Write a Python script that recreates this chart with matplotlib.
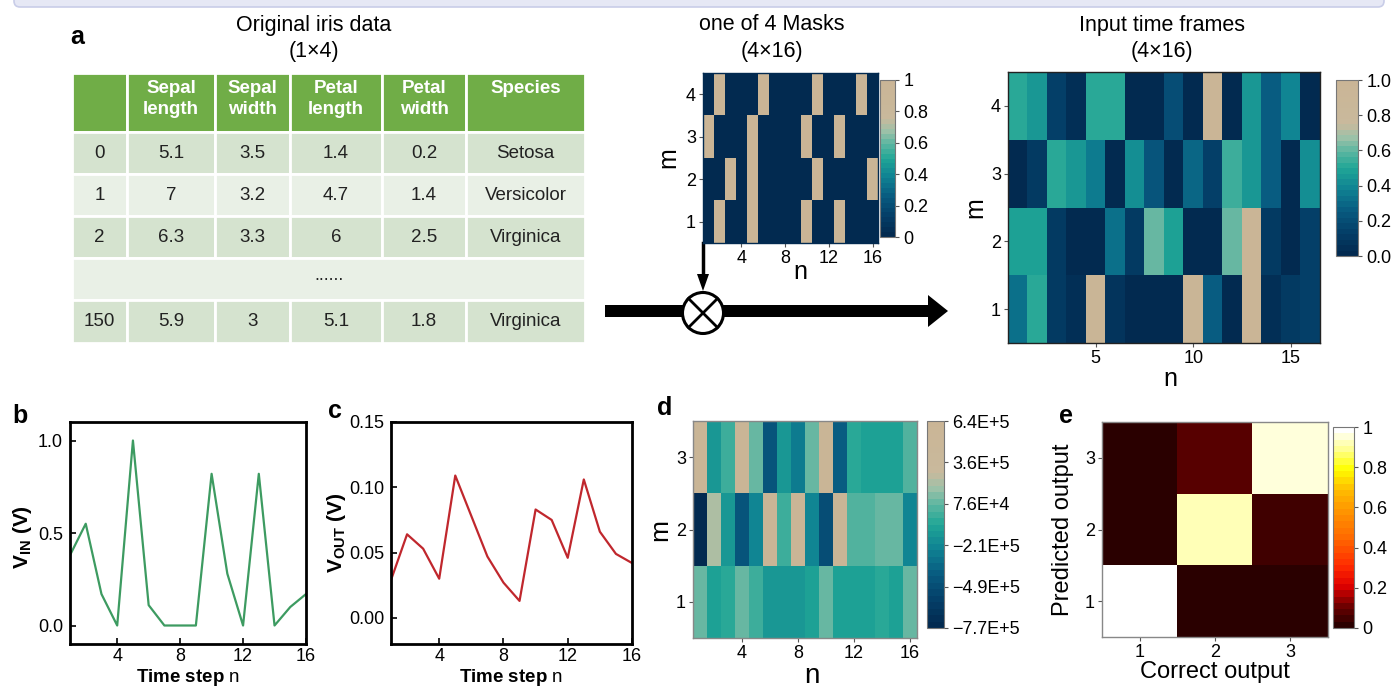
import matplotlib.pyplot as plt
import numpy as np
from matplotlib.colors import LinearSegmentedColormap
from matplotlib.patches import Rectangle, Circle, FancyBboxPatch, Polygon

plt.rcParams['font.family'] = ['Liberation Sans', 'DejaVu Sans']
plt.rcParams['mathtext.fontset'] = 'custom'
plt.rcParams['mathtext.rm'] = 'Liberation Sans'
plt.rcParams['mathtext.bf'] = 'Liberation Sans:bold'
plt.rcParams['mathtext.it'] = 'Liberation Sans:italic'

W, H = 1398, 689

# iris table
iris_header = ['', 'Sepal\nlength', 'Sepal\nwidth', 'Petal\nlength', 'Petal\nwidth', 'Species']
iris_rows = [
    ['0', '5.1', '3.5', '1.4', '0.2', 'Setosa'],
    ['1', '7', '3.2', '4.7', '1.4', 'Versicolor'],
    ['2', '6.3', '3.3', '6', '2.5', 'Virginica'],
    None,
    ['150', '5.9', '3', '5.1', '1.8', 'Virginica'],
]

# one of the 4 binary masks, rows m = 1..4
mask = np.array([
    [0, 1, 0, 0, 1, 0, 0, 0, 0, 1, 0, 0, 1, 0, 0, 0],
    [0, 0, 1, 0, 1, 0, 0, 0, 0, 0, 1, 0, 0, 0, 0, 1],
    [1, 0, 0, 0, 1, 0, 0, 0, 0, 1, 0, 0, 1, 0, 0, 0],
    [0, 1, 0, 0, 0, 1, 0, 0, 0, 0, 1, 0, 0, 0, 1, 0],
])

# masked input time frames, rows m = 1..4
frames = np.array([
    [0.33, 0.50, 0.12, 0.05, 0.95, 0.08, 0.02, 0.02, 0.02, 0.95, 0.25, 0.03, 1.00, 0.05, 0.12, 0.15],
    [0.47, 0.47, 0.12, 0.02, 0.02, 0.33, 0.10, 0.62, 0.47, 0.02, 0.02, 0.62, 1.00, 0.10, 0.03, 0.15],
    [0.00, 0.10, 0.50, 0.45, 0.35, 0.02, 0.42, 0.22, 0.02, 0.30, 0.15, 0.55, 0.45, 0.25, 0.03, 0.42],
    [0.50, 0.45, 0.15, 0.05, 0.52, 0.52, 0.00, 0.00, 0.20, 0.02, 1.00, 0.02, 0.45, 0.25, 0.40, 0.02],
])

# input / output voltages over 16 time steps
steps = np.arange(1, 17)
v_in = [0.38, 0.55, 0.17, 0.0, 1.0, 0.11, 0.0, 0.0, 0.0, 0.82, 0.28, 0.0, 0.82, 0.0, 0.10, 0.17]
v_out = [0.029, 0.064, 0.053, 0.030, 0.109, 0.078, 0.047, 0.027, 0.013,
         0.083, 0.075, 0.046, 0.106, 0.066, 0.049, 0.042]

# reservoir states (x1E+5), rows m = 1..3
states = np.array([
    [1.04, -0.93, -0.37, 0.76, 0.06, -1.35, -1.35, -1.35, -0.65, 0.76, -1.07, -1.07, -0.65, -0.37, -0.93, 1.04],
    [-7.70, 2.17, -1.35, -4.18, -2.34, 5.70, 0.06, 5.70, -2.06, -4.88, 5.70, 0.34, 0.34, 0.76, 0.76, -2.34],
    [5.70, -1.35, 0.06, 5.70, 0.76, -4.18, -1.35, -2.77, 0.76, 5.70, -3.75, -0.37, -1.07, -1.07, -0.65, 0.48],
])
states_min, states_max = -7.7, 6.4
states_ticklabels = ['\u22127.7E+5', '\u22124.9E+5', '\u22122.1E+5', '7.6E+4', '3.6E+5', '6.4E+5']

# confusion matrix: rows = predicted output, cols = correct output
confusion = np.array([
    [1.00, 0.00, 0.00],
    [0.00, 0.91, 0.05],
    [0.00, 0.09, 0.95],
])
accuracy = '95.44%'

teal_cmap = LinearSegmentedColormap.from_list('teal_beige', [
    (0.00, '#022a50'), (0.12, '#043e67'), (0.25, '#085a80'), (0.38, '#0f8393'),
    (0.50, '#20a696'), (0.60, '#5db6a1'), (0.68, '#9dc1a8'), (0.76, '#c9b99c'),
    (1.00, '#cab596')], N=32)
heat_cmap = LinearSegmentedColormap.from_list('dark_hot', [
    (0.00, '#2a0000'), (0.10, '#700000'), (0.20, '#e00000'), (0.30, '#ff2a00'),
    (0.45, '#ff6a00'), (0.60, '#ff9a00'), (0.70, '#ffc000'), (0.80, '#ffff00'),
    (0.90, '#ffff90'), (1.00, '#ffffff')], N=32)


def box(x0, y0, x1, y1):
    return [x0 / W, 1 - y1 / H, (x1 - x0) / W, (y1 - y0) / H]


fig = plt.figure(figsize=(W / 100, H / 100), dpi=100)
canvas = fig.add_axes([0, 0, 1, 1])
canvas.set_xlim(0, W)
canvas.set_ylim(H, 0)
canvas.axis('off')

# header strip at the very top
canvas.add_patch(FancyBboxPatch((14, -30), 1370, 37, boxstyle='round,pad=0,rounding_size=6',
                                facecolor='#e6e8f5', edgecolor='#c9cde8', lw=1.2))

# panel a: table
col_x = [72, 127, 215, 290, 382, 466, 585]
row_y = [73, 132, 174, 216, 258, 300, 343]
canvas.text(314, 25, 'Original iris data', ha='center', va='center', fontsize=15.5)
canvas.text(314, 51, '(1\u00d74)', ha='center', va='center', fontsize=15.5)
canvas.text(70, 44, 'a', fontsize=18, fontweight='bold', va='baseline')
for j in range(6):
    canvas.add_patch(Rectangle((col_x[j], row_y[0]), col_x[j + 1] - col_x[j], row_y[1] - row_y[0],
                               facecolor='#70ad47', edgecolor='white', lw=2))
    canvas.text((col_x[j] + col_x[j + 1]) / 2, 80, iris_header[j], ha='center', va='top',
                color='white', fontsize=13.5, fontweight='bold', linespacing=1.3)
for i, row in enumerate(iris_rows):
    y0, y1 = row_y[i + 1], row_y[i + 2]
    fc = '#d5e3cf' if i % 2 == 0 else '#e9f0e6'
    if row is None:
        canvas.add_patch(Rectangle((col_x[0], y0), col_x[-1] - col_x[0], y1 - y0,
                                   facecolor=fc, edgecolor='white', lw=2))
        canvas.text((col_x[0] + col_x[-1]) / 2, (y0 + y1) / 2 - 3, '......', ha='center',
                    va='center', fontsize=13, color='#222222')
        continue
    for j, val in enumerate(row):
        canvas.add_patch(Rectangle((col_x[j], y0), col_x[j + 1] - col_x[j], y1 - y0,
                                   facecolor=fc, edgecolor='white', lw=2))
        canvas.text((col_x[j] + col_x[j + 1]) / 2, (y0 + y1) / 2, val, ha='center',
                    va='center', fontsize=13.5, color='#222222')

# multiplication flow
canvas.add_patch(Rectangle((605, 305), 325, 12, facecolor='black', edgecolor='none'))
canvas.add_patch(Polygon([(928, 295), (948, 311), (928, 327)], closed=True,
                         facecolor='black', edgecolor='none'))
canvas.plot([703, 703], [243, 276], color='black', lw=2.5)
canvas.add_patch(Polygon([(697, 274), (709, 274), (703, 291)], closed=True,
                         facecolor='black', edgecolor='none'))
canvas.add_patch(Circle((703, 313), 20.5, facecolor='white', edgecolor='black', lw=2.2, zorder=3))
d = 20.5 / np.sqrt(2)
canvas.plot([703 - d, 703 + d], [313 - d, 313 + d], color='black', lw=2, zorder=4)
canvas.plot([703 - d, 703 + d], [313 + d, 313 - d], color='black', lw=2, zorder=4)


def heatmap(rect, crect, data, cmap, vmin, vmax, xticks, frame):
    ax = fig.add_axes(box(*rect))
    rows, cols = data.shape
    im = ax.imshow(data, cmap=cmap, vmin=vmin, vmax=vmax, origin='lower', aspect='auto',
                   interpolation='nearest', extent=(0.5, cols + 0.5, 0.5, rows + 0.5))
    ax.set_xticks(xticks)
    ax.set_yticks(range(1, rows + 1))
    ax.tick_params(labelsize=13, length=3, width=0.8, color='#555555', pad=2)
    for s in ax.spines.values():
        s.set_color(frame)
        s.set_linewidth(1.0)
    cax = fig.add_axes(box(*crect))
    cb = fig.colorbar(im, cax=cax)
    cb.outline.set_edgecolor('#777777')
    cb.outline.set_linewidth(0.8)
    cax.tick_params(labelsize=13, length=3, width=0.8, color='#555555', pad=3)
    return ax, cb


# mask
ax_m, cb_m = heatmap((703, 73, 878, 243), (880, 80, 895, 237), mask, teal_cmap, 0, 1,
                     [4, 8, 12, 16], '#022a50')
cb_m.set_ticks([0, 0.2, 0.4, 0.6, 0.8, 1])
cb_m.set_ticklabels(['0', '0.2', '0.4', '0.6', '0.8', '1'])
canvas.text(772, 25, 'one of 4 Masks', ha='center', va='center', fontsize=15.5)
canvas.text(772, 51, '(4\u00d716)', ha='center', va='center', fontsize=15.5)
canvas.text(668, 158, 'm', ha='center', va='center', rotation=90, fontsize=18)
canvas.text(800, 272, 'n', ha='center', va='center', fontsize=18)

# input time frames
ax_f, cb_f = heatmap((1008, 72, 1320, 343), (1336, 80, 1358, 256), frames, teal_cmap, 0, 1,
                     [5, 10, 15], '#222222')
cb_f.set_ticks([0, 0.2, 0.4, 0.6, 0.8, 1.0])
cb_f.set_ticklabels(['0.0', '0.2', '0.4', '0.6', '0.8', '1.0'])
canvas.text(1162, 25, 'Input time frames', ha='center', va='center', fontsize=15.5)
canvas.text(1162, 51, '(4\u00d716)', ha='center', va='center', fontsize=15.5)
canvas.text(975, 208, 'm', ha='center', va='center', rotation=90, fontsize=18)
canvas.text(1170, 379, 'n', ha='center', va='center', fontsize=18)


# panels b and c
def line_panel(rect, y, color, ylim, yticks, yfmt):
    ax = fig.add_axes(box(*rect))
    ax.plot(steps, y, color=color, lw=1.6)
    ax.set_xlim(1, 16)
    ax.set_ylim(*ylim)
    ax.set_xticks([4, 8, 12, 16])
    ax.set_yticks(yticks)
    ax.set_yticklabels([yfmt.format(t) for t in yticks])
    ax.tick_params(direction='in', length=4, width=1.2, labelsize=13, pad=5)
    ax.tick_params(axis='x', pad=3)
    for s in ax.spines.values():
        s.set_linewidth(2)
    return ax


line_panel((70, 422, 306, 644), v_in, '#3d9b61', (-0.1, 1.1), [0.0, 0.5, 1.0], '{:.1f}')
line_panel((391, 422, 632, 644), v_out, '#c0272d', (-0.02, 0.15),
           [0.0, 0.05, 0.10, 0.15], '{:.2f}')
canvas.text(12, 423, 'b', fontsize=18, fontweight='bold', va='baseline')
canvas.text(328, 418, 'c', fontsize=18, fontweight='bold', va='baseline')
canvas.text(22, 537, r'$\mathbf{V_{IN}\ (V)}$', ha='center', va='center', rotation=90, fontsize=15)
canvas.text(337, 533, r'$\mathbf{V_{OUT}\ (V)}$', ha='center', va='center', rotation=90, fontsize=15)
canvas.text(188, 688, r'$\mathbf{Time\ step}\ \mathrm{n}$', ha='center', va='bottom', fontsize=13.5)
canvas.text(511, 688, r'$\mathbf{Time\ step}\ \mathrm{n}$', ha='center', va='bottom', fontsize=13.5)

# panel d: reservoir states
ax_d, cb_d = heatmap((693, 421, 917, 638), (927, 421, 944, 628), states, teal_cmap,
                     states_min, states_max, [4, 8, 12, 16], '#888888')
cb_d.set_ticks(np.linspace(states_min, states_max, 6))
cb_d.set_ticklabels(states_ticklabels)
canvas.text(657, 415, 'd', fontsize=18, fontweight='bold', va='baseline')
canvas.text(660, 530, 'm', ha='center', va='center', rotation=90, fontsize=19)
canvas.text(812, 676, 'n', ha='center', va='center', fontsize=20)

# panel e: confusion matrix
ax_e, cb_e = heatmap((1102, 422, 1328, 637), (1333, 427, 1354, 628), confusion, heat_cmap,
                     0, 1, [1, 2, 3], '#888888')
cb_e.set_ticks([0, 0.2, 0.4, 0.6, 0.8, 1])
cb_e.set_ticklabels(['0', '0.2', '0.4', '0.6', '0.8', '1'])
canvas.text(1059, 423, 'e', fontsize=18, fontweight='bold', va='baseline')
canvas.text(1110, 442, accuracy, color='white', fontsize=16, fontweight='bold', va='center')
canvas.text(1063, 530, 'Predicted output', ha='center', va='center', rotation=90, fontsize=17)
canvas.text(1215, 672, 'Correct output', ha='center', va='center', fontsize=17)

fig.savefig('out.png', dpi=100)
